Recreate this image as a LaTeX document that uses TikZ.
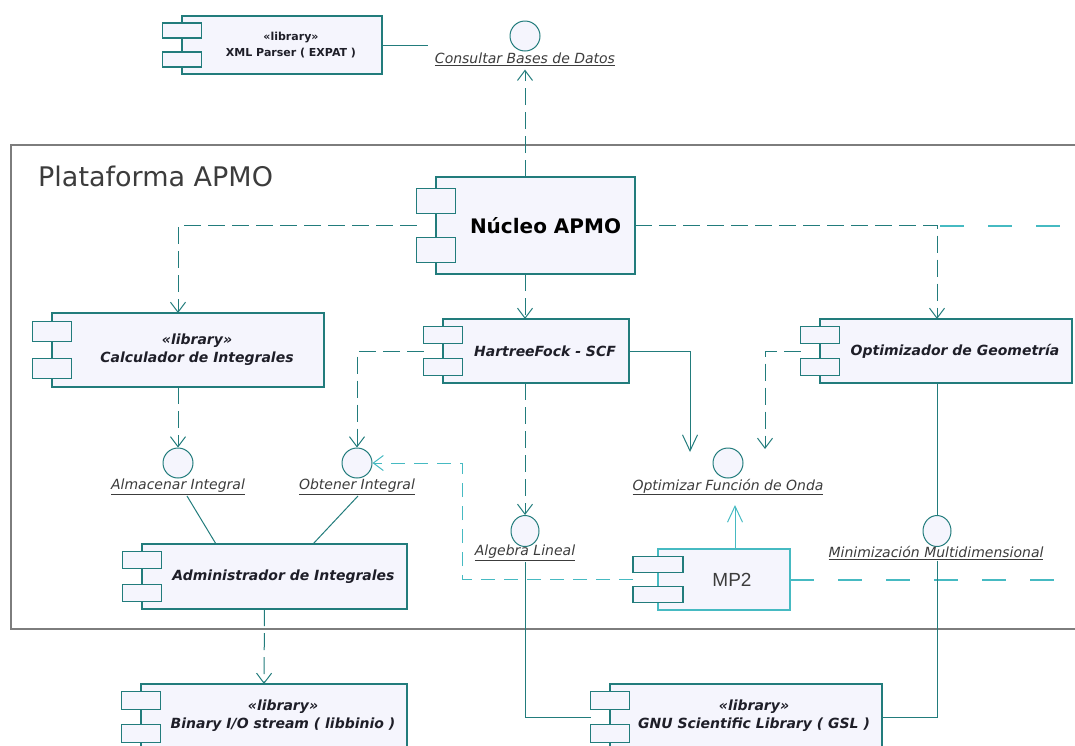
\documentclass[tikz,border=0pt]{standalone}
\usepackage{fontspec}
\setmainfont{DejaVu Sans}
\newfontfamily\mpfont{Liberation Sans}
\usetikzlibrary{arrows.meta,calc,shapes.geometric}

\definecolor{teal1}{RGB}{34,124,124}
\definecolor{cyan1}{RGB}{70,186,194}
\definecolor{boxfill}{RGB}{245,245,253}
\definecolor{framegray}{RGB}{125,125,125}
\definecolor{txt}{RGB}{30,30,40}
\definecolor{titlegray}{RGB}{60,60,60}

% width of the two small tabs of a component symbol
\def\cmpTabW{39}
% \umlcomp[colour]{name}{left}{top}{right}{bottom}; tabs keep the default colour
\newcommand\umlcomp[6][teal1]{%
  \pgfmathsetmacro\cmpW{#5-#3}%
  \pgfmathsetmacro\cmpH{#6-#4}%
  \pgfmathsetmacro\cmpTh{0.26*\cmpH}%
  \pgfmathsetmacro\cmpTa{0.12*\cmpH}%
  \node[compbox, draw=#1, minimum width=\cmpW pt, minimum height=\cmpH pt,
        anchor=north west] (#2) at (#3,#4) {};
  \node[compbox, draw=teal1, minimum width=\cmpTabW pt, minimum height=\cmpTh pt,
        anchor=north west] (#2-t1) at ($(#2.north west)+(-0.5*\cmpTabW,\cmpTa)$) {};
  \node[compbox, draw=teal1, minimum width=\cmpTabW pt, minimum height=\cmpTh pt,
        anchor=south west] (#2-t2) at ($(#2.south west)+(-0.5*\cmpTabW,-\cmpTa)$) {};
}

\begin{document}
\begin{tikzpicture}[x=1pt,y=-1pt,
  compbox/.style={rectangle, fill=boxfill, line width=1.1pt, inner sep=0pt, outer sep=0pt},
  nm/.style={font=\fontsize{14}{18}\selectfont\bfseries\itshape, text=txt, align=center, inner sep=0pt},
  ifc/.style={circle, draw=teal1, fill=boxfill, line width=1pt, minimum size=30pt, inner sep=0pt},
  ife/.style={ellipse, draw=teal1, fill=boxfill, line width=1pt, minimum width=28pt, minimum height=31pt, inner sep=0pt},
  ifl/.style={font=\fontsize{14}{16}\selectfont\itshape, text=titlegray, inner sep=1pt},
  conn/.style={draw=teal1, line width=1pt},
  dep/.style={draw=teal1, line width=1pt, dash pattern=on 17pt off 7pt,
              -{Straight Barb[length=10pt,width=15pt]}},
  depl/.style={draw=cyan1, line width=1pt, dash pattern=on 14pt off 9pt,
              -{Straight Barb[length=10pt,width=15pt]}},
  bigtip/.style={-{Straight Barb[length=16pt,width=15pt]}},
  ext/.style={draw=cyan1, line width=2pt, dash pattern=on 24pt off 24pt},
]
\useasboundingbox (0,0) rectangle (1075,745);
\clip (0,0) rectangle (1075,745);

% platform frame
\draw[draw=framegray, line width=1.3pt] (11,145) rectangle (1110,629);
\node[anchor=west, font=\fontsize{27}{30}\selectfont, text=titlegray, inner sep=0pt]
  (title) at (38,176) {Plataforma APMO};

% components
\umlcomp{xml}{182}{16}{382}{74}
\node[font=\fontsize{11}{16}\selectfont\bfseries, text=txt, align=center, inner sep=0pt]
  (xml-n) at ($(xml.center)+(9,0)$) {«library»\\XML Parser ( EXPAT )};

\umlcomp{nucleo}{436}{177}{635}{274}
\node[font=\fontsize{20}{24}\selectfont\bfseries, text=black, inner sep=0pt]
  (nucleo-n) at ($(nucleo.center)+(10,0)$) {Núcleo APMO};

\umlcomp{calc}{52}{313}{324}{387}
\node[nm] (calc-n) at ($(calc.center)+(9,0)$) {«library»\\Calculador de Integrales};

\umlcomp{hf}{443}{319}{629}{383}
\node[nm] (hf-n) at ($(hf.center)+(9,0)$) {HartreeFock - SCF};

\umlcomp{opt}{820}{319}{1072}{383}
\node[nm] (opt-n) at ($(opt.center)+(9,0)$) {Optimizador de Geometría};

\umlcomp{adm}{142}{544}{407}{609}
\node[nm] (adm-n) at ($(adm.center)+(9,0)$) {Administrador de Integrales};

\umlcomp{bin}{141}{684}{407}{750}
\node[nm] (bin-n) at (283,716) {«library»\\Binary I/O stream ( libbinio )};

\umlcomp{gsl}{610}{684}{882}{750}
\node[nm] (gsl-n) at (754,716) {«library»\\GNU Scientific Library ( GSL )};

\def\cmpTabW{50}
\umlcomp[cyan1]{mp2}{658}{549}{790}{610}
\node[font=\fontsize{19}{22}\selectfont\mpfont, text=titlegray, inner sep=0pt]
  (mp2-n) at ($(mp2.center)+(8,0)$) {MP2};

% provided interfaces
\node[ifc] (consult) at (525,36) {};
\node[ifl] (consult-l) at (525,59) {\underline{Consultar Bases de Datos}};
\node[ifc] (alm) at (178,463) {};
\node[ifl] (alm-l) at (178,487) {\underline{Almacenar Integral}};
\node[ifc] (obt) at (357,463) {};
\node[ifl] (obt-l) at (357,487) {\underline{Obtener Integral}};
\node[ifc] (optf) at (728,463) {};
\node[ifl] (optf-l) at (728,487) {\underline{Optimizar Función de Onda}};
\node[ife] (alg) at (525,531) {};
\node[ifl] (alg-l) at (525,553) {\underline{Algebra Lineal}};
\node[ife] (minim) at (937,531) {};
\node[ifl] (minim-l) at (936,553) {\underline{Minimización Multidimensional}};

% free ends
\coordinate (xmlend) at (428,45);
\coordinate (farR) at (1090,0);
\coordinate (hfTip) at ($(optf.center)+(-38,-11)$);
\coordinate (optTip) at ($(optf.center)+(37,-14)$);
\coordinate (mp2Tip) at ($(optf.center)+(7,42)$);

% connectors
\draw[conn] (xml.east) -- (xmlend);
\draw[dep] (nucleo.north -| consult) -- ($(consult-l.south -| consult)+(0,3)$);
\draw[dep] (nucleo-t1.west |- nucleo.west) -| (alm |- calc.north);
\draw[dep] (nucleo.south -| alg) -- (hf.north -| alg);
\draw[dep] (nucleo.east) -| (minim |- opt.north);
\draw[ext] ($(nucleo.east -| minim)+(3,0)$) -- (nucleo.east -| farR);
\draw[dep] (calc.south -| alm) -- (alm.north);
\draw[dep] (hf-t1.west |- hf.west) -| (obt.north);
\draw[conn, bigtip] (hf.east) -| (hfTip);
\draw[dep] (opt-t1.west |- opt.west) -| (optTip);
\draw[depl] (mp2-t1.west |- mp2.west) -| ($(obt.east)+(90,0)$) -- (obt.east);
\draw[conn, draw=cyan1, bigtip] (mp2.north -| mp2Tip) -- (mp2Tip);
\draw[ext] (mp2.east) -- (mp2.east -| farR);
\draw[dep] (hf.south -| alg) -- (alg.north);
\draw[conn] (alg-l.south) |- (gsl-t1.west |- gsl.west);
\draw[conn] (opt.south -| minim) -- (minim.north);
\draw[conn] (minim-l.south -| minim) |- (gsl.east);
\draw[conn] ($(alm-l.south)+(9,0)$) -- ($(adm.north west)+(74,0)$);
\draw[conn] ($(obt-l.south)+(1,0)$) -- ($(adm.north west)+(171,0)$);
\draw[dep] ($(adm.south)+(-10,0)$) -- ($(bin.north)+(-10,0)$);
\end{tikzpicture}
\end{document}
